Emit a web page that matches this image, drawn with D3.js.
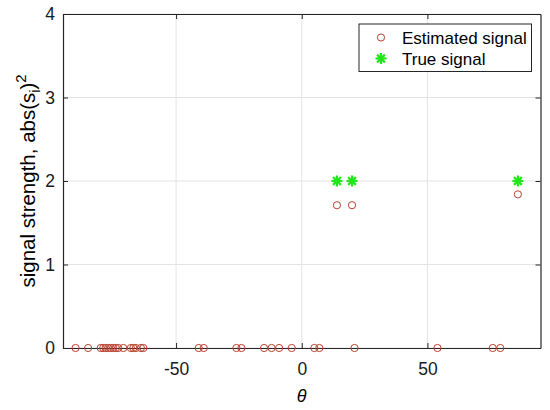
<!DOCTYPE html>
<html><head><meta charset="utf-8">
<script src="https://cdn.jsdelivr.net/npm/d3@7"></script>
<style>body{margin:0;background:#fff}svg{display:block}text{font-family:"Liberation Sans",Arial,Helvetica,sans-serif}</style>
</head><body><svg id="c" width="550" height="410"></svg>
<script>
// Estimated signal: angles (deg) and strengths
const estTheta = [-90,-85,-80,-79,-78,-77,-76,-75,-74,-73,-71,-68,-67,-66,-64,-63,-41,-39,-26,-24,-15,-12,-9,-4,5,7,14,20,21,54,76,79,86];
const estValue = [0,0,0,0,0,0,0,0,0,0,0,0,0,0,0,0,0,0,0,0,0,0,0,0,0,0,1.71,1.71,0,0,0,0,1.84];
// True signal
const trueTheta = [14,20,86];
const trueValue = [2,2,2];
const xTicks = [-50,0,50];
const yTicks = [0,1,2,3,4];
const legendLabels = ["Estimated signal","True signal"];

const svg = d3.select("#c");
const L=63, R=540.5, T=14, B=348;
const x = d3.scaleLinear().domain([-95,95]).range([L,R]);
const y = d3.scaleLinear().domain([0,4]).range([B,T]);
const axisCol="#262626", gridCol="#e3e3e3";

// grid
svg.append("g").selectAll("line").data(xTicks).join("line")
  .attr("x1",d=>x(d)).attr("x2",d=>x(d)).attr("y1",T).attr("y2",B).attr("stroke",gridCol);
svg.append("g").selectAll("line").data(yTicks).join("line")
  .attr("x1",L).attr("x2",R).attr("y1",d=>y(d)).attr("y2",d=>y(d)).attr("stroke",gridCol);

// axes
const fs = 17.5;
const xa = svg.append("g").attr("transform",`translate(0,${B})`)
  .call(d3.axisBottom(x).tickValues(xTicks).tickSizeInner(-5).tickSizeOuter(0).tickPadding(15).tickFormat(d3.format("d")));
const xt = svg.append("g").attr("transform",`translate(0,${T})`)
  .call(d3.axisTop(x).tickValues(xTicks).tickSizeInner(-5).tickSizeOuter(0).tickFormat(""));
const ya = svg.append("g").attr("transform",`translate(${L},0)`)
  .call(d3.axisLeft(y).tickValues(yTicks).tickSizeInner(-5).tickSizeOuter(0).tickPadding(8).tickFormat(d3.format("d")));
const yr = svg.append("g").attr("transform",`translate(${R},0)`)
  .call(d3.axisRight(y).tickValues(yTicks).tickSizeInner(-5).tickSizeOuter(0).tickFormat(""));
[xa,xt,ya,yr].forEach(g=>{
  g.select(".domain").attr("stroke",axisCol).attr("stroke-width",1.2);
  g.selectAll(".tick line").attr("stroke",axisCol);
  g.selectAll(".tick text").attr("fill","#1a1a1a").attr("font-size",fs).attr("font-family","Liberation Sans, Arial, sans-serif");
});
xa.selectAll(".tick text").text(d=>d<0?"-"+Math.abs(d):d);

// estimated circles
const red="#b8402e";
svg.append("g").selectAll("circle").data(estTheta.map((t,i)=>[t,estValue[i]])).join("circle")
  .attr("cx",d=>x(d[0])).attr("cy",d=>y(d[1])).attr("r",3.6)
  .attr("fill","none").attr("stroke",red).attr("stroke-width",1);

// asterisk marker
function star(g,cx,cy,s){
  const col="#22e61a";
  const a=s, b=s*0.707;
  const segs=[[-a,0,a,0],[0,-a,0,a],[-b,-b,b,b],[-b,b,b,-b]];
  segs.forEach(q=>g.append("line").attr("x1",cx+q[0]).attr("y1",cy+q[1]).attr("x2",cx+q[2]).attr("y2",cy+q[3])
    .attr("stroke",col).attr("stroke-width",2.2));
}
const tg = svg.append("g");
trueTheta.forEach((t,i)=>star(tg,x(t),y(trueValue[i]),5.5));

// legend
const lg = svg.append("g");
lg.append("rect").attr("x",359).attr("y",24).attr("width",172.5).attr("height",47.5)
  .attr("fill","#fff").attr("stroke",axisCol).attr("stroke-width",1);
lg.append("circle").attr("cx",381).attr("cy",37.5).attr("r",3.6).attr("fill","none").attr("stroke",red);
star(lg,381,58.5,5.5);
lg.selectAll("text").data(legendLabels).join("text")
  .attr("x",402).attr("y",(d,i)=>43.5+i*21).attr("font-size",17).attr("fill","#000").text(d=>d);

// axis labels
svg.append("text").attr("x",x(0)).attr("y",402).attr("text-anchor","middle")
  .attr("font-size",18).attr("font-style","italic").attr("font-family","DejaVu Serif, serif").text("θ");
const yl = svg.append("text").attr("transform",`translate(35,${(T+B)/2}) rotate(-90)`)
  .attr("text-anchor","middle").attr("font-size",20.5).attr("fill","#000");
yl.append("tspan").text("signal strength, abs(s");
yl.append("tspan").attr("font-size",14).attr("dy",4.5).text("i");
yl.append("tspan").attr("dy",-4.5).text(")");
yl.append("tspan").attr("font-size",15).attr("dy",-9).text("2");
</script></body></html>
